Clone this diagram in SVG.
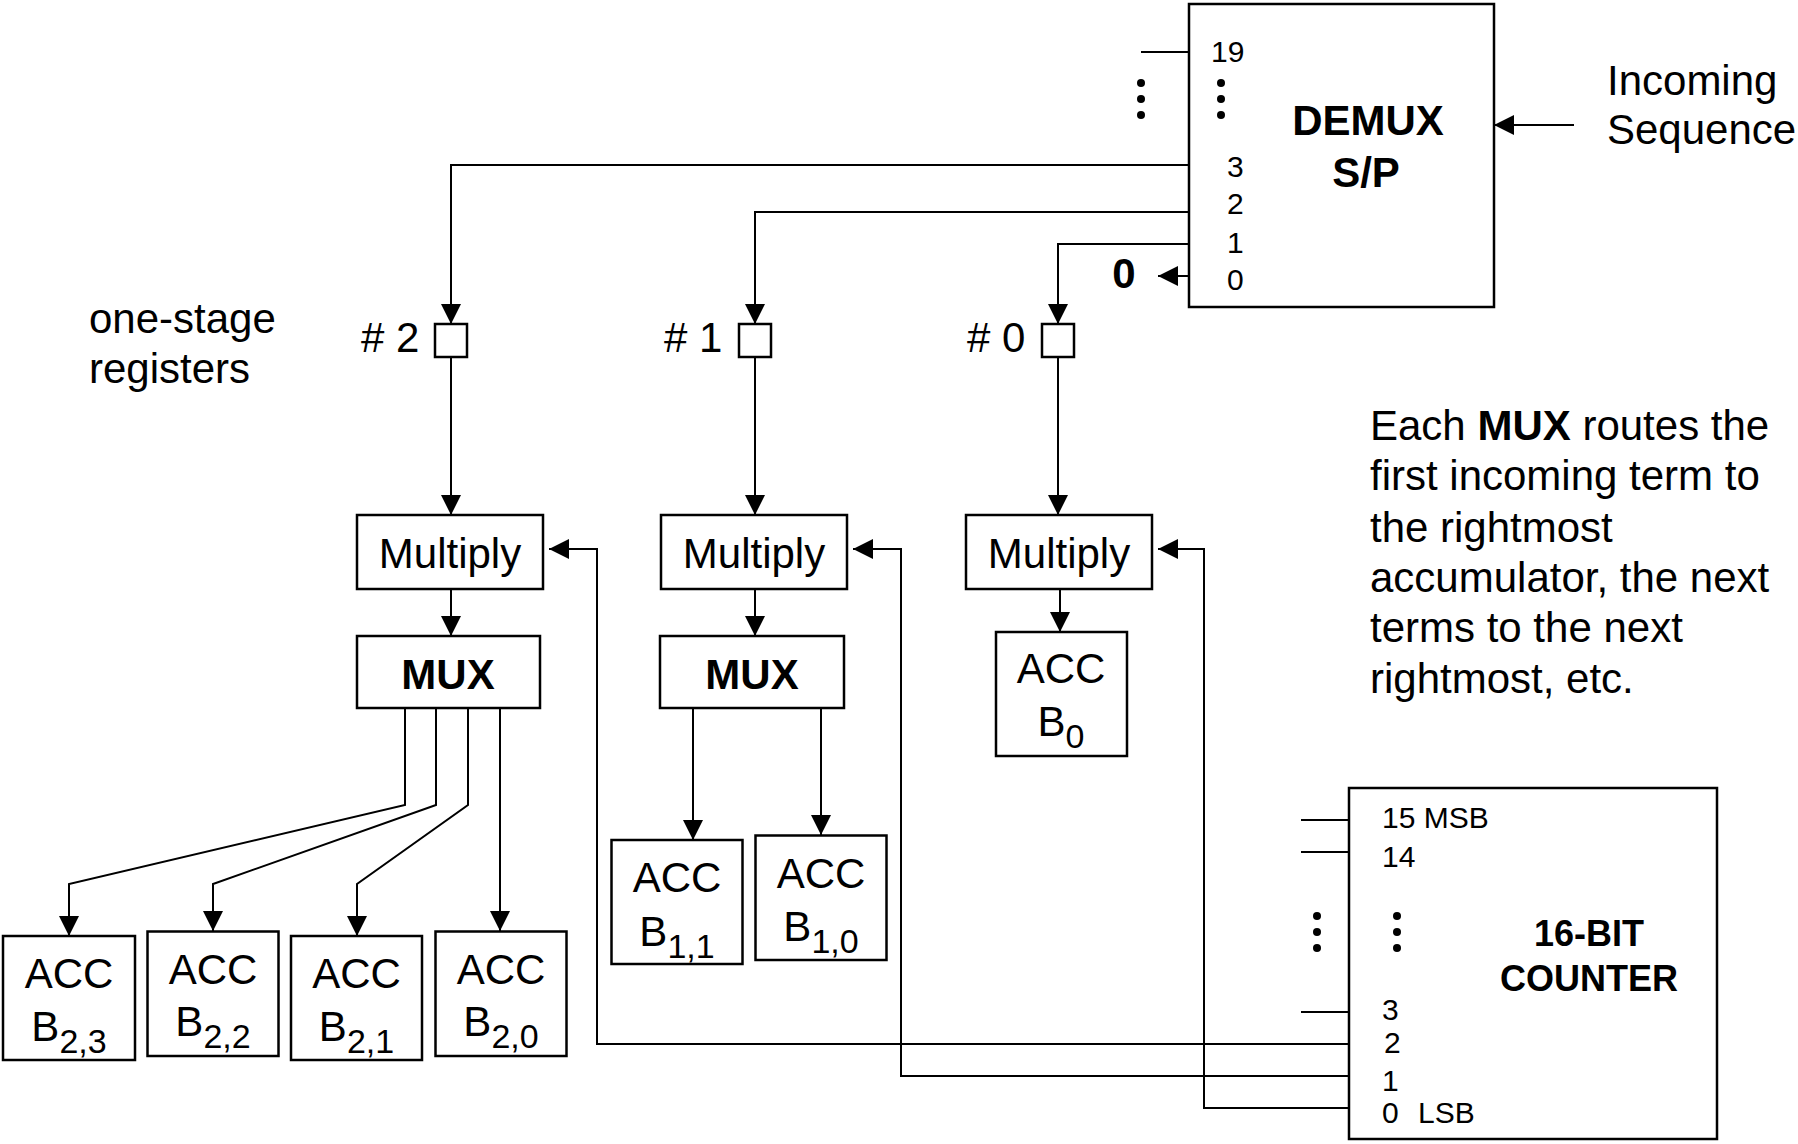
<svg xmlns="http://www.w3.org/2000/svg" width="1798" height="1144" viewBox="0 0 1798 1144" font-family="Arial, 'Liberation Sans', Helvetica, Arimo, sans-serif">
<style>
text{font-family:Arial,"Liberation Sans",Helvetica,Arimo,sans-serif;fill:#000}
.t42{font-size:42px}
.t30{font-size:30px}
.b{font-weight:bold}
.mid{text-anchor:middle}
.box{fill:#fff;stroke:#000;stroke-width:2.5}
.ln{fill:none;stroke:#000;stroke-width:2}
.arr{marker-end:url(#ah)}
.dot{fill:#000}
</style>
<defs>
<marker id="ah" markerUnits="userSpaceOnUse" markerWidth="20" markerHeight="20" refX="20" refY="10" orient="auto">
<path d="M0,0 L20,10 L0,20 z" fill="#000"/>
</marker>
</defs>
<rect width="1798" height="1144" fill="#fff"/>

<g id="connectors">
<polyline class="ln arr" points="1189,165 451,165 451,324"/>
<polyline class="ln arr" points="1189,212 755,212 755,324"/>
<polyline class="ln arr" points="1189,244 1058,244 1058,324"/>
<line class="ln arr" x1="1189" y1="276" x2="1158" y2="276"/>
<line class="ln" x1="1141" y1="52" x2="1189" y2="52"/>
<line class="ln arr" x1="1574" y1="125" x2="1494" y2="125"/>
<line class="ln arr" x1="451" y1="357" x2="451" y2="515"/>
<line class="ln arr" x1="755" y1="357" x2="755" y2="515"/>
<line class="ln arr" x1="1058" y1="357" x2="1058" y2="515"/>
<line class="ln arr" x1="451" y1="589" x2="451" y2="636"/>
<line class="ln arr" x1="755" y1="589" x2="755" y2="636"/>
<line class="ln arr" x1="1060" y1="589" x2="1060" y2="632"/>
<polyline class="ln arr" points="405,708 405,805 69,884 69,936"/>
<polyline class="ln arr" points="436,708 436,805 213,884 213,931"/>
<polyline class="ln arr" points="468,708 468,805 357,884 357,936"/>
<line class="ln arr" x1="500" y1="708" x2="500" y2="931"/>
<line class="ln arr" x1="693" y1="708" x2="693" y2="840"/>
<line class="ln arr" x1="821" y1="708" x2="821" y2="835"/>
<polyline class="ln arr" points="1349,1044 597,1044 597,549 549,549"/>
<polyline class="ln arr" points="1349,1076 901,1076 901,549 853,549"/>
<polyline class="ln arr" points="1349,1108 1204,1108 1204,549 1158,549"/>
<line class="ln" x1="1301" y1="820" x2="1349" y2="820"/>
<line class="ln" x1="1301" y1="852" x2="1349" y2="852"/>
<line class="ln" x1="1301" y1="1012" x2="1349" y2="1012"/>
</g>

<g id="demux">
<rect class="box" x="1189" y="4" width="305" height="303"/>
<text class="t30" x="1211" y="62">19</text>
<text class="t30" x="1227" y="177">3</text>
<text class="t30" x="1227" y="214">2</text>
<text class="t30" x="1227" y="253">1</text>
<text class="t30" x="1227" y="290">0</text>
<text class="t42 b mid" x="1368" y="135">DEMUX</text>
<text class="t42 b mid" x="1366" y="187">S/P</text>
<circle class="dot" cx="1141" cy="83" r="4"/>
<circle class="dot" cx="1141" cy="99" r="4"/>
<circle class="dot" cx="1141" cy="115" r="4"/>
<circle class="dot" cx="1221" cy="83" r="4"/>
<circle class="dot" cx="1221" cy="99" r="4"/>
<circle class="dot" cx="1221" cy="115" r="4"/>
</g>

<g id="zero-out"><text class="t42 b mid" x="1124" y="288">0</text></g>
<g id="incoming"><text class="t42" x="1607" y="95">Incoming</text><text class="t42" x="1607" y="144">Sequence</text></g>
<g id="note-registers"><text class="t42" x="89" y="333">one-stage</text><text class="t42" x="89" y="383">registers</text></g>

<g id="reg2"><text class="t42" x="361" y="352"># 2</text><rect class="box" x="435" y="324" width="32" height="33"/></g>
<g id="reg1"><text class="t42" x="664" y="352"># 1</text><rect class="box" x="739" y="324" width="32" height="33"/></g>
<g id="reg0"><text class="t42" x="967" y="352"># 0</text><rect class="box" x="1042" y="324" width="32" height="33"/></g>

<g id="mult2"><rect class="box" x="357" y="515" width="186" height="74"/><text class="t42 mid" x="450" y="568">Multiply</text></g>
<g id="mult1"><rect class="box" x="661" y="515" width="186" height="74"/><text class="t42 mid" x="754" y="568">Multiply</text></g>
<g id="mult0"><rect class="box" x="966" y="515" width="186" height="74"/><text class="t42 mid" x="1059" y="568">Multiply</text></g>

<g id="mux2"><rect class="box" x="357" y="636" width="183" height="72"/><text class="t42 b mid" x="448" y="689">MUX</text></g>
<g id="mux1"><rect class="box" x="660" y="636" width="184" height="72"/><text class="t42 b mid" x="752" y="689">MUX</text></g>

<g id="accB23"><rect class="box" x="3" y="936" width="132" height="124"/><text class="t42 mid" x="69" y="988">ACC</text><text class="t42 mid" x="69" y="1041">B<tspan dy="12" font-size="34">2,3</tspan></text></g>
<g id="accB22"><rect class="box" x="147.5" y="931.5" width="131" height="124.5"/><text class="t42 mid" x="213" y="984">ACC</text><text class="t42 mid" x="213" y="1036">B<tspan dy="12" font-size="34">2,2</tspan></text></g>
<g id="accB21"><rect class="box" x="291" y="936" width="131" height="124"/><text class="t42 mid" x="356.5" y="988">ACC</text><text class="t42 mid" x="356.5" y="1041">B<tspan dy="12" font-size="34">2,1</tspan></text></g>
<g id="accB20"><rect class="box" x="435.5" y="931.5" width="131" height="124.5"/><text class="t42 mid" x="501" y="984">ACC</text><text class="t42 mid" x="501" y="1036">B<tspan dy="12" font-size="34">2,0</tspan></text></g>
<g id="accB11"><rect class="box" x="611.5" y="840" width="131" height="124"/><text class="t42 mid" x="677" y="892">ACC</text><text class="t42 mid" x="677" y="946">B<tspan dy="12" font-size="34">1,1</tspan></text></g>
<g id="accB10"><rect class="box" x="755.5" y="835.5" width="131" height="124.5"/><text class="t42 mid" x="821" y="888">ACC</text><text class="t42 mid" x="821" y="941">B<tspan dy="12" font-size="34">1,0</tspan></text></g>
<g id="accB0"><rect class="box" x="996" y="632" width="131" height="124"/><text class="t42 mid" x="1061" y="683">ACC</text><text class="t42 mid" x="1061" y="736">B<tspan dy="12" font-size="34">0</tspan></text></g>

<g id="note-mux">
<text class="t42" x="1370" y="440">Each <tspan class="b">MUX</tspan> routes the</text>
<text class="t42" x="1370" y="490">first incoming term to</text>
<text class="t42" x="1370" y="542">the rightmost</text>
<text class="t42" x="1370" y="592">accumulator, the next</text>
<text class="t42" x="1370" y="642">terms to the next</text>
<text class="t42" x="1370" y="693">rightmost, etc.</text>
</g>

<g id="counter">
<rect class="box" x="1349" y="788" width="368" height="351"/>
<text class="t30" x="1382" y="828">15 MSB</text>
<text class="t30" x="1382" y="867">14</text>
<text class="t30" x="1382" y="1020">3</text>
<text class="t30" x="1384" y="1053">2</text>
<text class="t30" x="1382" y="1091">1</text>
<text class="t30" x="1382" y="1123">0<tspan x="1418">LSB</tspan></text>
<text class="b mid" font-size="36" x="1589" y="946">16-BIT</text>
<text class="b mid" font-size="36" x="1589" y="991">COUNTER</text>
<circle class="dot" cx="1317" cy="916" r="4"/>
<circle class="dot" cx="1317" cy="932" r="4"/>
<circle class="dot" cx="1317" cy="948" r="4"/>
<circle class="dot" cx="1397" cy="916" r="4"/>
<circle class="dot" cx="1397" cy="932" r="4"/>
<circle class="dot" cx="1397" cy="948" r="4"/>
</g>
</svg>
